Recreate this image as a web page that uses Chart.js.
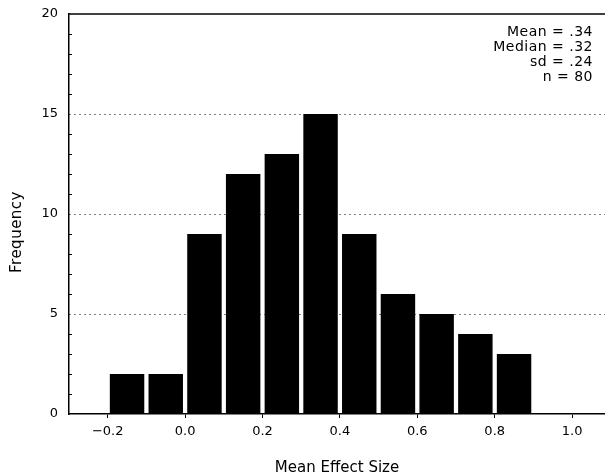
<!DOCTYPE html>
<html>
<head>
<meta charset="utf-8">
<script src="https://cdn.jsdelivr.net/npm/chart.js@4.4.0/dist/chart.umd.min.js"></script>
<style>
    html, body { margin: 0; padding: 0; background: #fff; }
    #wrap { width: 605px; height: 474px; }
</style>
</head>
<body>
<div id="wrap"><canvas id="histChart" width="605" height="474"></canvas></div>
<script>
// histogram bins (centers of 0.1-wide bins) and counts
const binCenters = [-0.15, -0.05, 0.05, 0.15, 0.25, 0.35, 0.45, 0.55, 0.65, 0.75, 0.85];
const frequencies = [2, 2, 9, 12, 13, 15, 9, 6, 5, 4, 3];
const xTicks = [-0.2, 0.0, 0.2, 0.4, 0.6, 0.8, 1.0];
const yTicks = [0, 5, 10, 15, 20];
const statLines = ['Mean = .34', 'Median = .32', 'sd = .24', 'n = 80'];
const yTitle = 'Frequency';

const fontFamily = 'DejaVu Sans';

// minor y ticks, top frame line, y title and the stats box
const extrasPlugin = {
    id: 'extras',
    afterDraw(chart) {
        const ctx = chart.ctx;
        const area = chart.chartArea;
        const y = chart.scales.y;
        ctx.save();
        ctx.strokeStyle = '#000';
        ctx.lineWidth = 1;
        for (let v = 1; v < 20; v++) {
            if (v % 5 == 0) continue;
            const py = Math.round(y.getPixelForValue(v)) + 0.5;
            ctx.beginPath();
            ctx.moveTo(area.left, py);
            ctx.lineTo(area.left + 3, py);
            ctx.stroke();
        }
        ctx.lineWidth = 1.5;
        ctx.beginPath();
        ctx.moveTo(area.left, area.top);
        ctx.lineTo(area.right, area.top);
        ctx.stroke();

        ctx.fillStyle = '#000';
        ctx.font = '14px "' + fontFamily + '"';
        ctx.letterSpacing = '0.5px';
        ctx.textAlign = 'right';
        ctx.textBaseline = 'middle';
        statLines.forEach((line, i) => {
            ctx.fillText(line, area.right - 12, area.top + 18 + i * 15);
        });

        ctx.letterSpacing = '0.5px';
        ctx.font = '15px "' + fontFamily + '"';
        ctx.textAlign = 'center';
        ctx.translate(17, y.getPixelForValue(9.1));
        ctx.rotate(-Math.PI / 2);
        ctx.fillText(yTitle, 0, 0);
        ctx.restore();
    }
};

const histData = {
    datasets: [{
        data: binCenters.map((c, i) => ({ x: c, y: frequencies[i] })),
        backgroundColor: '#000',
        borderWidth: 0,
        barPercentage: 0.89,
        categoryPercentage: 1.0,
        grouped: false
    }]
};

const histConfig = {
    type: 'bar',
    data: histData,
    options: {
        responsive: false,
        animation: false,
        layout: { padding: { top: 14, right: 0, left: 0, bottom: 0 } },
        plugins: {
            legend: { display: false },
            tooltip: { enabled: false }
        },
        scales: {
            x: {
                type: 'linear',
                min: -0.3,
                max: 1.085,
                offset: false,
                afterBuildTicks: (scale) => {
                    scale.ticks = xTicks.map(v => ({ value: v }));
                },
                afterFit: (scale) => { scale.height = 60; },
                grid: {
                    offset: false,
                    drawOnChartArea: false,
                    drawTicks: true,
                    tickLength: 4,
                    tickColor: '#000',
                    tickWidth: 1
                },
                border: { display: true, color: '#000', width: 1.5 },
                ticks: {
                    color: '#000',
                    padding: 6,
                    maxRotation: 0,
                    autoSkip: false,
                    font: { family: fontFamily, size: 13 },
                    callback: (v) => Number(v).toFixed(1).replace('-', '\u2212')
                },
                title: {
                    display: true,
                    text: 'Mean Effect Size',
                    color: '#000',
                    font: { family: fontFamily, size: 15, lineHeight: 0.8 },
                    padding: { top: 14, bottom: 0 }
                }
            },
            y: {
                min: 0,
                max: 20,
                afterBuildTicks: (scale) => {
                    scale.ticks = yTicks.map(v => ({ value: v }));
                },
                afterFit: (scale) => {
                    scale.width = 69;
                    scale.paddingTop = 0;
                    scale.paddingBottom = 0;
                },
                grid: {
                    drawTicks: false,
                    lineWidth: 1,
                    color: (ctx) => (ctx.tick && (ctx.tick.value == 0 || ctx.tick.value == 20)) ? 'rgba(0,0,0,0)' : '#000'
                },
                border: { display: true, color: '#000', width: 1.5, dash: [1, 4] },
                ticks: {
                    color: '#000',
                    padding: 11,
                    font: { family: fontFamily, size: 13 }
                },
                title: { display: false }
            }
        }
    },
    plugins: [extrasPlugin]
};

const histChart = new Chart(document.getElementById('histChart'), histConfig);
</script>
</body>
</html>
